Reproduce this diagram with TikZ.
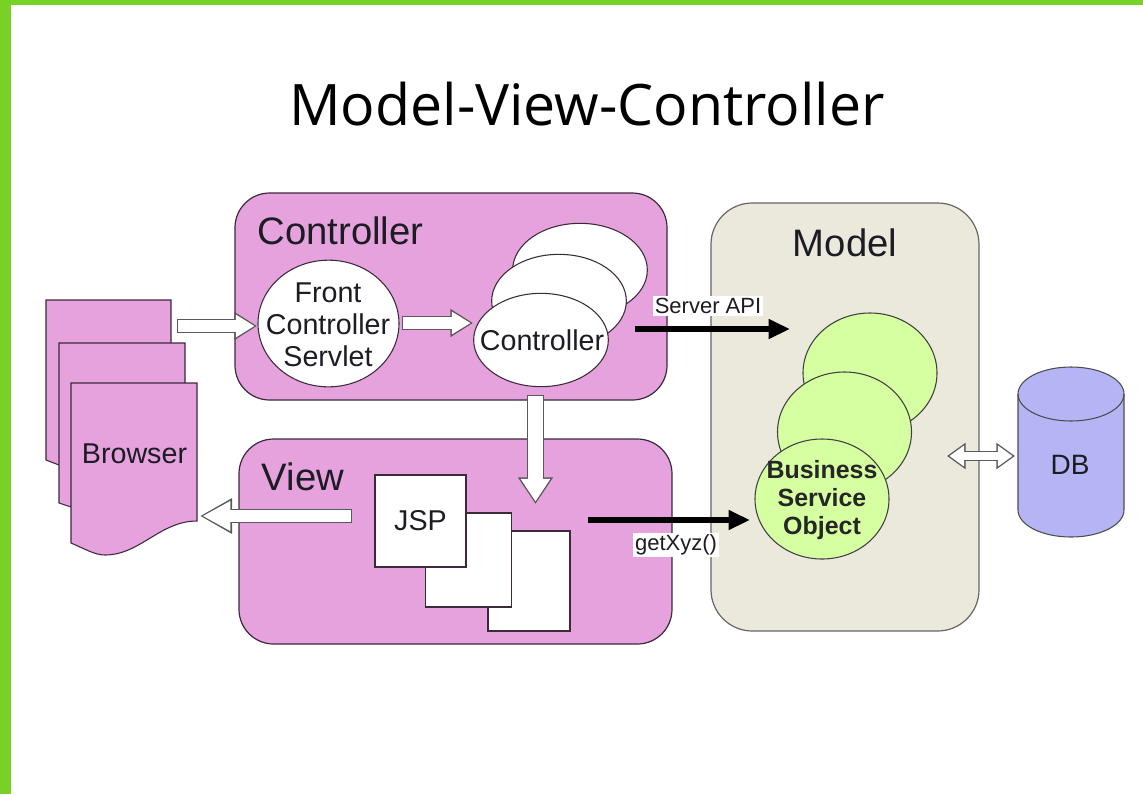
\documentclass[tikz,border=0pt]{standalone}
\usepackage{fontspec}
\setmainfont{Liberation Sans}
\newfontfamily\titlefont{Open Sans}
\usetikzlibrary{arrows.meta,shapes.geometric}
\definecolor{barcol}{HTML}{78D226}
\definecolor{tiercol}{HTML}{E6A2DC}
\definecolor{modelcol}{HTML}{EBE8DC}
\definecolor{objcol}{HTML}{D5FFA1}
\definecolor{dbcol}{HTML}{B5B5F5}
\definecolor{linecol}{HTML}{3A2A3A}
\definecolor{inkcol}{HTML}{1C1C24}
\tikzset{
    tier/.style={draw=linecol,fill=tiercol,rounded corners=26pt,line width=0.9pt},
    oval/.style={ellipse,draw=linecol,fill=white,line width=0.8pt,inner sep=0pt},
    sheet/.style={draw=linecol,fill=white,line width=0.8pt,inner sep=0pt},
    doc/.style={draw=linecol,fill=tiercol,line width=0.8pt},
    bizobj/.style={ellipse,draw=black!75,fill=objcol,line width=0.8pt,inner sep=0pt,minimum width=100.5pt,minimum height=90pt},
    label/.style={text=inkcol,align=center,font=\fontsize{21.5}{24}\selectfont},
    bigname/.style={text=inkcol,font=\fontsize{28.7}{32}\selectfont},
    callname/.style={text=inkcol,fill=white,inner sep=1.5pt,font=\fontsize{16.5}{19}\selectfont},
    blockarrow/.style n args={3}{line width=#1-1.4pt,white,shorten <=0.7pt,shorten >=1.8pt,-{Triangle[length=#2-3pt,width=#3-4pt]},
        preaction={draw=black!65,line width=#1,shorten <=0pt,shorten >=0pt,-{Triangle[length=#2,width=#3]}}},
    bothblock/.style={line width=6pt,white,shorten <=1.8pt,shorten >=1.8pt,{Triangle[length=11pt,width=15pt]}-{Triangle[length=11pt,width=15pt]},
        preaction={draw=black!65,line width=7.4pt,shorten <=0pt,shorten >=0pt,{Triangle[length=14pt,width=19pt]}-{Triangle[length=14pt,width=19pt]}}},
    callarrow/.style={line width=5pt,black,-{Triangle[length=16pt,width=14pt]}},
}
\begin{document}
\begin{tikzpicture}[x=0.75pt,y=-0.75pt]
    \useasboundingbox (0,0) rectangle (1143,794);
    \fill [barcol] (0,0) rectangle (1143,5);
    \fill [barcol] (0,0) rectangle (11,794);
    \node (title) at (587,104) {\titlefont\fontsize{42.9}{50}\selectfont Model-View-Controller};

    % tiers
    \draw [tier] (235,193) rectangle (667,400);
    \draw [tier] (239,439) rectangle (672,644);
    \draw [tier,draw=black!60,fill=modelcol,rounded corners=31pt] (711,203) rectangle (979,631);
    \node [bigname] (ctrllabel) at (340.5,231) {Controller};
    \node [bigname] (viewlabel) at (303,477) {View};
    \node [bigname] (modellabel) at (845,243) {Model};

    % browser pages
    \draw [doc] (46,300) -- (171,300) -- (171,440) -- (59,465) -- (46,460) -- cycle;
    \draw [doc] (59,343) -- (185,343) -- (185,480) -- (71,507) -- (59,503) -- cycle;
    \draw [doc] (71,383) -- (197,383) -- (197,521) .. controls (160,521) and (140,555) .. (105,555) .. controls (95,555) and (85,549) .. (71,543) -- cycle;
    \node [label] (browser) at (134.5,454) {Browser};

    % controllers
    \node [oval,minimum width=105.75pt,minimum height=95pt] (front) at (328.5,323.5) {};
    \node [oval,minimum width=101pt,minimum height=70pt] (ctrlc) at (580,270) {};
    \node [oval,minimum width=101pt,minimum height=70pt] (ctrlb) at (559,301) {};
    \node [oval,minimum width=101pt,minimum height=70pt] (ctrla) at (541,340) {};
    \node [label] (fronttext) at (328,325) {Front\\Controller\\Servlet};
    \node [label] (ctrltext) at (542,340) {Controller};

    % jsp pages
    \node [sheet,minimum width=61.5pt,minimum height=75pt] (jspc) at (529,581) {};
    \node [sheet,minimum width=64pt,minimum height=70.5pt] (jspb) at (468.5,560) {};
    \node [sheet,minimum width=68.25pt,minimum height=69pt,label] (jspa) at (420.5,521) {JSP};

    % business objects
    \node [bizobj] (bizc) at (870,373) {};
    \node [bizobj] (bizb) at (844.5,432) {};
    \node [bizobj] (biza) at (822,499) {};
    \node [text=black!85,align=center,font=\fontsize{18.7}{21}\selectfont\bfseries] (biztext) at (822,500) {Business\\Service\\Object};

    % database
    \draw [draw=black!70,fill=dbcol,line width=0.8pt] (1018,394) arc (180:360:53 and 27) -- (1124,510) arc (0:180:53 and 27) -- cycle;
    \draw [draw=black!70,line width=0.8pt] (1018,394) arc (180:0:53 and 27);
    \node [label,font=\fontsize{21}{24}\selectfont] (db) at (1070,465) {DB};

    % arrow ends
    \coordinate (browserout) at (177,326);
    \coordinate (frontin) at (257,326);
    \coordinate (frontout) at (402,323);
    \coordinate (ctrlin) at (473,323);
    \coordinate (ctrldown) at (535.5,395);
    \coordinate (viewin) at (535.5,504);
    \coordinate (viewout) at (352,516);
    \coordinate (browserin) at (200,516);
    \coordinate (modelport) at (947,456);
    \coordinate (dbport) at (1015,456);
    \coordinate (apistart) at (635,329);
    \coordinate (apiend) at (790,329);
    \coordinate (getstart) at (588,520);
    \coordinate (getend) at (750,520);

    % flows
    \draw [blockarrow={10.5pt}{17pt}{20pt}] (browserout) -- (frontin);
    \draw [blockarrow={10.5pt}{17pt}{20pt}] (frontout) -- (ctrlin);
    \draw [blockarrow={12.75pt}{20pt}{25pt}] (ctrldown) -- (viewin);
    \draw [blockarrow={10pt}{24pt}{25pt}] (viewout) -- (browserin);
    \draw [bothblock] (modelport) -- (dbport);
    \draw [callarrow] (apistart) -- (apiend);
    \draw [callarrow] (getstart) -- (getend);
    \node [callname] (api) at (708,306) {Server API};
    \node [callname] (getter) at (676,545) {getXyz()};
\end{tikzpicture}
\end{document}
